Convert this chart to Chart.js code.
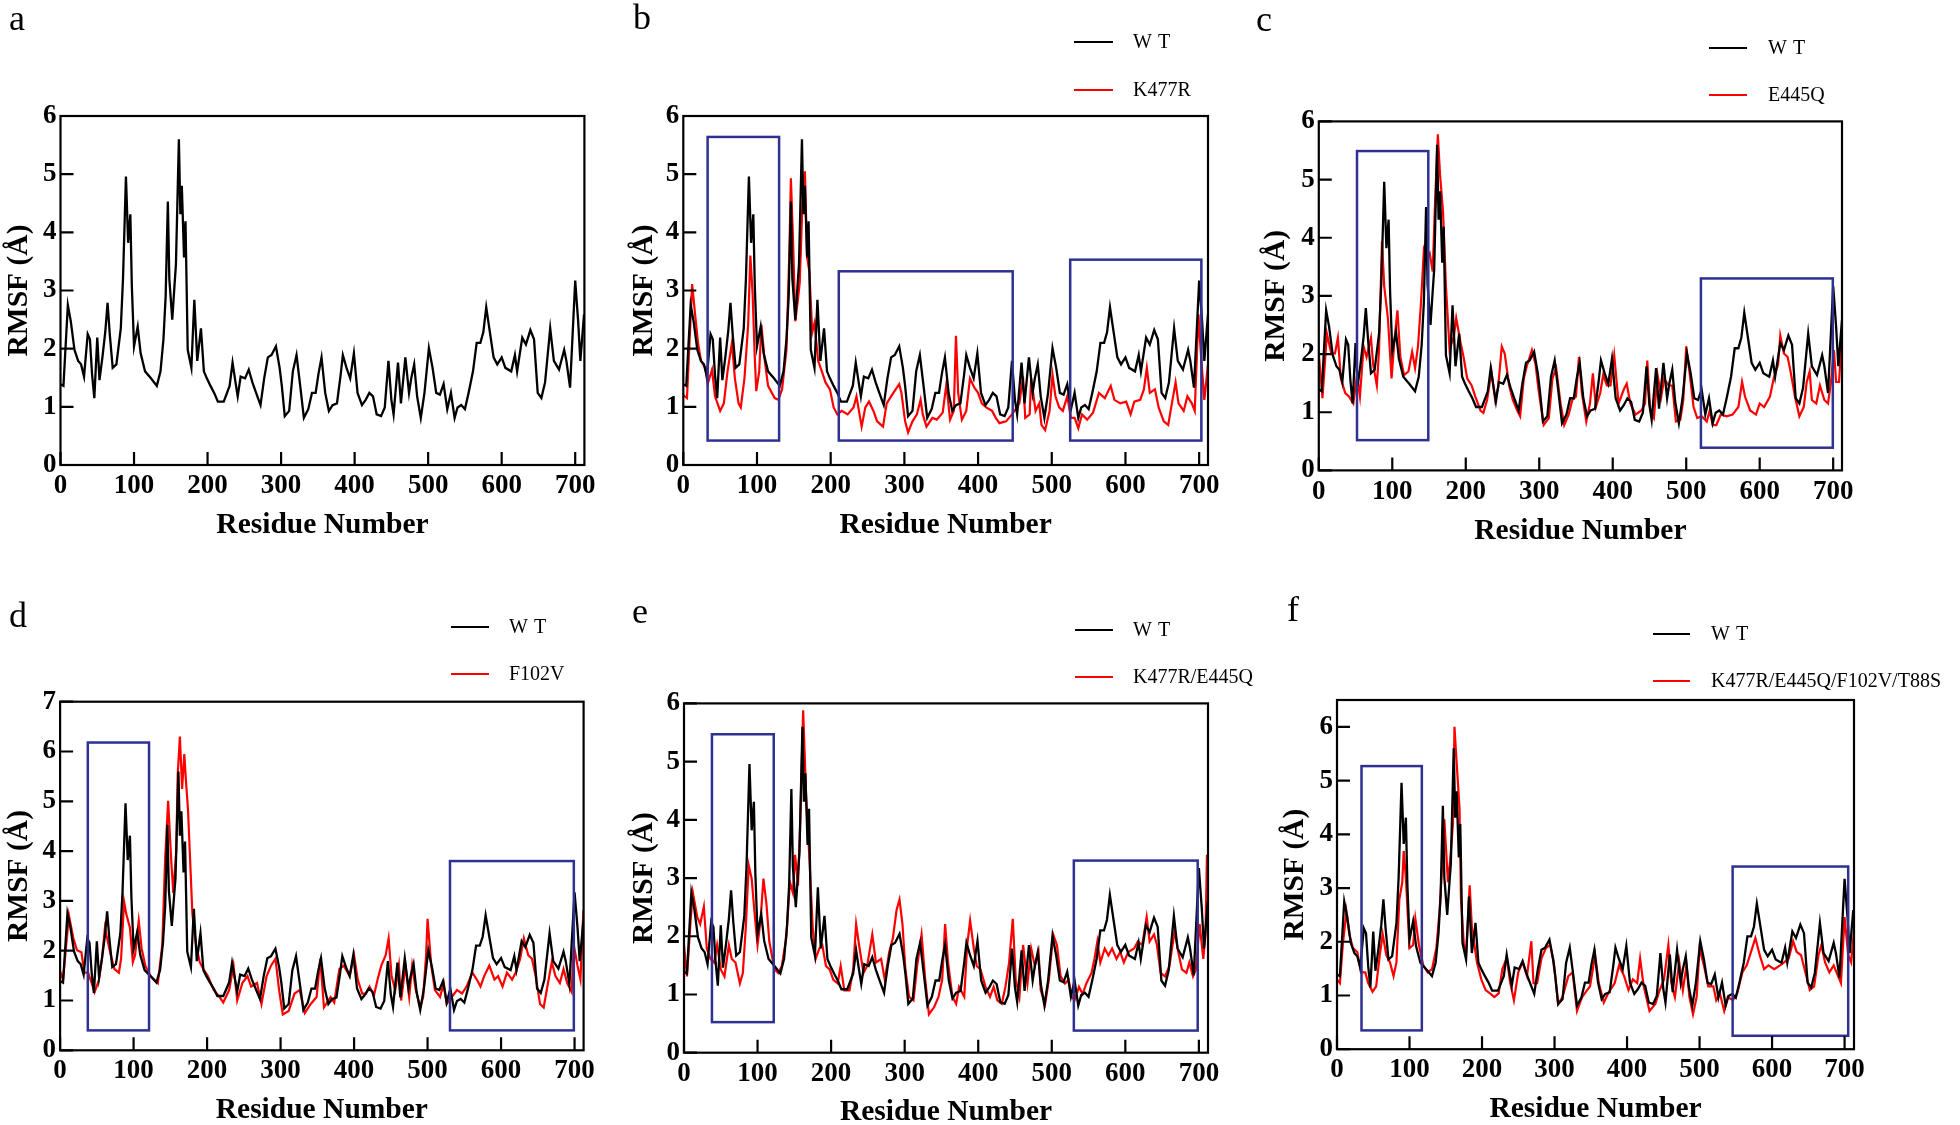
<!DOCTYPE html>
<html>
<head>
<meta charset="utf-8">
<script src="https://cdn.jsdelivr.net/npm/chart.js@4.4.1/dist/chart.umd.min.js"></script>
<style>
  html, body { margin: 0; padding: 0; background: #fff; }
  body { width: 1960px; height: 1125px; position: relative; overflow: hidden; }
  canvas { position: absolute; }
</style>
</head>
<body>
<canvas id="pa"></canvas>
<canvas id="pb"></canvas>
<canvas id="pc"></canvas>
<canvas id="pd"></canvas>
<canvas id="pe"></canvas>
<canvas id="pf"></canvas>
<script>
// RMSF per residue, [residue, RMSF in Å]
const wt = [[0,1.39],[4,1.36],[10,2.75],[14,2.47],[19,1.98],[24,1.79],[28,1.73],[32,1.52],[37,2.25],[40,2.16],[43,1.55],[46,1.15],[50,2.19],[53,1.46],[57,1.85],[61,2.3],[64,2.79],[67,2.25],[71,1.67],[76,1.73],[82,2.35],[85,3.2],[89,4.96],[92,3.82],[95,4.31],[97,3.08],[100,2.04],[105,2.38],[109,1.92],[115,1.61],[123,1.49],[131,1.36],[136,1.61],[140,2.16],[143,2.9],[146,4.53],[148,3.2],[152,2.5],[155,3.08],[157,3.45],[161,5.6],[163,4.31],[165,4.8],[168,3.57],[170,4.19],[173,1.98],[178,1.67],[182,2.84],[186,1.79],[191,2.35],[195,1.61],[199,1.49],[204,1.36],[209,1.24],[214,1.09],[222,1.09],[230,1.36],[234,1.76],[238,1.42],[241,1.18],[245,1.52],[251,1.49],[256,1.64],[261,1.42],[266,1.24],[272,1.03],[277,1.49],[282,1.85],[287,1.89],[293,2.04],[298,1.67],[301,1.36],[305,0.84],[311,0.93],[316,1.61],[321,1.89],[326,1.36],[331,0.81],[337,0.96],[342,1.24],[347,1.24],[351,1.58],[355,1.85],[360,1.24],[365,0.93],[370,1.03],[376,1.06],[381,1.55],[384,1.89],[389,1.67],[394,1.49],[399,1.92],[404,1.24],[410,1.03],[415,1.12],[420,1.24],[425,1.18],[430,0.87],[436,0.84],[441,0.99],[446,1.79],[450,1.12],[453,0.87],[459,1.76],[463,1.06],[469,1.85],[474,1.24],[477,1.49],[481,1.73],[485,1.18],[490,0.81],[495,1.24],[501,2.01],[506,1.67],[511,1.24],[516,1.21],[521,1.39],[526,0.96],[531,1.24],[536,0.81],[540,0.99],[545,1.03],[550,0.96],[555,1.24],[561,1.61],[566,2.1],[571,2.1],[575,2.28],[579,2.71],[584,2.28],[589,1.85],[594,1.73],[600,1.85],[605,1.67],[613,1.61],[618,1.89],[621,1.61],[628,2.19],[633,2.07],[639,2.32],[644,2.16],[649,1.24],[654,1.15],[659,1.42],[666,2.35],[671,1.79],[678,1.64],[685,1.98],[688,1.79],[693,1.33],[700,3.17],[704,2.47],[707,1.79],[712,2.59]];

const k477r = [[0,1.2],[2,1.18],[5,1.15],[12,3.11],[16,2.59],[20,2.1],[24,1.79],[30,1.67],[33,1.39],[39,1.64],[43,1.18],[50,0.93],[55,1.06],[60,1.61],[66,2.1],[70,1.49],[75,1.06],[78,0.99],[83,1.49],[88,2.41],[91,3.6],[94,2.96],[97,1.85],[99,1.27],[103,1.61],[106,2.41],[110,1.85],[115,1.36],[124,1.15],[129,1.12],[134,1.3],[140,1.98],[144,3.7],[146,4.93],[149,3.82],[152,2.47],[156,2.9],[158,3.14],[162,4.62],[165,5.05],[168,3.57],[171,3.33],[175,2.28],[178,2.44],[183,1.79],[188,1.61],[193,1.42],[199,1.3],[204,0.99],[209,0.87],[215,0.93],[223,0.87],[231,0.99],[235,1.18],[242,0.66],[247,0.99],[252,1.09],[258,0.93],[263,0.75],[271,0.66],[276,1.06],[285,1.24],[293,1.39],[296,1.24],[301,0.75],[305,0.56],[311,0.75],[317,0.87],[322,1.12],[325,0.87],[330,0.66],[338,0.81],[344,0.78],[352,0.9],[357,1.39],[362,0.78],[367,0.93],[370,2.22],[373,1.24],[378,0.78],[384,0.93],[389,1.49],[395,1.33],[400,1.24],[405,1.06],[411,0.99],[419,0.93],[424,0.81],[429,0.72],[438,0.75],[446,0.87],[451,0.96],[456,1.06],[461,1.52],[464,0.81],[470,0.87],[472,1.49],[478,0.93],[483,1.06],[486,0.69],[491,0.6],[497,0.93],[501,1.55],[505,1.18],[510,0.99],[515,0.93],[521,1.18],[526,0.81],[531,0.81],[536,0.63],[541,0.87],[548,0.78],[556,0.9],[564,1.24],[572,1.15],[580,1.36],[585,1.12],[593,1.06],[601,1.09],[607,0.87],[612,1.09],[620,1.12],[625,1.3],[629,1.67],[633,1.24],[640,1.3],[645,0.99],[652,0.75],[658,0.69],[663,1.06],[668,1.42],[672,1.06],[679,0.93],[684,1.18],[690,1.06],[694,0.93],[699,2.59],[703,1.79],[707,1.12],[712,1.73]];

const e445q = [[0,2.01],[5,1.24],[11,2.35],[17,2.01],[22,2.01],[26,2.28],[30,1.58],[36,1.33],[41,1.27],[47,1.15],[52,1.64],[56,1.27],[61,2.13],[65,1.95],[71,2.28],[74,1.82],[79,1.46],[82,2.07],[86,3.94],[89,3.17],[94,2.62],[99,1.58],[103,2.25],[107,2.75],[111,1.95],[116,1.64],[122,1.7],[127,2.04],[131,1.76],[135,2.13],[139,2.87],[143,3.79],[147,3.64],[151,3.73],[155,3.42],[158,4.53],[162,5.78],[165,5.08],[169,4.46],[173,3.17],[178,2.07],[184,2.32],[187,2.62],[193,2.19],[197,1.95],[202,1.58],[208,1.46],[213,1.27],[220,1.03],[224,0.99],[229,1.21],[235,1.7],[240,1.21],[244,1.42],[249,2.13],[253,2.01],[259,1.46],[264,1.21],[270,1.03],[274,0.93],[279,1.58],[283,1.79],[290,2.07],[295,1.82],[299,1.39],[306,0.78],[313,0.9],[318,1.58],[323,1.76],[329,1.15],[334,0.78],[340,0.96],[345,1.21],[350,1.27],[354,1.95],[358,1.33],[364,0.84],[369,1.15],[373,1.67],[377,1.09],[383,1.33],[387,1.64],[392,1.46],[397,1.46],[402,1.98],[408,1.15],[415,1.39],[419,1.49],[424,1.15],[431,0.96],[439,1.03],[444,1.15],[447,1.89],[451,1.03],[456,0.9],[461,1.64],[466,1.27],[470,1.58],[476,1.46],[481,1.46],[486,0.84],[492,0.87],[496,1.21],[500,2.13],[505,1.64],[510,1.09],[515,0.9],[521,0.93],[528,0.84],[532,1.03],[536,0.78],[541,0.78],[547,0.96],[555,0.93],[563,0.96],[571,1.09],[576,1.52],[580,1.27],[587,1.03],[595,0.96],[600,1.15],[606,1.09],[614,1.27],[619,1.58],[625,1.82],[628,2.32],[633,2.01],[638,1.95],[642,1.7],[648,1.27],[654,0.93],[660,1.09],[664,1.52],[668,1.7],[671,1.21],[677,1.15],[682,1.46],[688,1.21],[693,1.15],[697,1.52],[701,2.07],[704,1.52],[708,1.52],[712,2.38]];

const f102v = [[0,1.59],[4,1.42],[12,2.71],[18,2.25],[23,2.01],[29,1.97],[33,1.56],[38,1.56],[43,1.35],[47,1.17],[53,1.42],[57,1.84],[61,2.46],[65,2.18],[69,1.91],[74,1.63],[80,1.56],[83,1.84],[87,2.99],[90,2.74],[95,2.46],[99,1.77],[102,1.91],[107,2.6],[111,2.04],[116,1.7],[123,1.49],[128,1.42],[133,1.35],[139,2.11],[143,3.86],[147,5.01],[151,3.86],[154,3.16],[158,4.0],[160,5.53],[163,6.3],[166,5.25],[169,5.95],[171,5.46],[174,4.84],[177,3.79],[180,2.74],[185,2.11],[190,1.77],[195,1.63],[201,1.49],[209,1.21],[217,1.07],[222,0.96],[230,1.21],[236,1.7],[241,1.0],[248,1.35],[255,1.49],[260,1.28],[268,1.35],[274,0.93],[281,1.49],[287,1.7],[293,1.84],[298,1.21],[303,0.72],[311,0.79],[319,1.14],[326,1.21],[333,0.75],[341,0.93],[349,1.07],[354,1.84],[359,0.86],[368,1.07],[373,0.96],[380,1.63],[386,1.7],[394,1.49],[400,1.91],[405,1.42],[411,1.14],[416,1.14],[421,1.28],[427,1.1],[432,1.42],[437,1.7],[443,1.91],[447,2.25],[451,1.49],[456,1.21],[461,1.7],[464,1.0],[470,1.7],[475,1.07],[479,1.7],[484,1.21],[490,0.86],[494,1.07],[498,1.91],[500,2.64],[505,1.7],[510,1.21],[517,1.07],[522,1.35],[526,0.93],[533,1.07],[540,1.21],[547,1.14],[553,1.28],[561,1.56],[567,1.42],[572,1.28],[577,1.49],[584,1.7],[591,1.42],[596,1.49],[602,1.28],[608,1.56],[615,1.42],[620,1.56],[626,1.84],[631,2.25],[637,1.91],[642,1.84],[647,1.49],[653,0.93],[658,0.86],[663,1.28],[669,1.77],[674,1.49],[680,1.35],[685,1.63],[690,1.35],[696,1.17],[699,2.11],[704,1.7],[708,1.42],[712,2.81]];

const k477rE445q = [[0,1.85],[4,1.31],[9,2.27],[12,2.75],[18,2.33],[22,2.21],[27,2.51],[31,1.79],[36,1.61],[41,1.55],[45,1.85],[50,1.43],[55,1.31],[61,1.85],[65,1.61],[70,1.55],[76,1.19],[80,1.37],[84,2.15],[88,3.22],[92,2.99],[96,2.39],[100,1.85],[104,2.27],[108,2.99],[112,2.57],[116,1.91],[123,1.43],[128,1.37],[133,1.49],[139,1.97],[144,2.93],[148,2.75],[151,3.4],[155,2.87],[158,3.94],[162,5.88],[166,4.42],[170,3.46],[175,2.15],[179,1.61],[184,1.79],[188,1.85],[193,1.49],[198,1.43],[203,1.25],[209,1.19],[213,1.49],[218,1.07],[225,1.07],[230,1.43],[234,2.21],[238,1.85],[244,1.37],[249,1.49],[256,2.03],[261,1.55],[268,1.61],[273,1.25],[279,1.73],[284,1.97],[289,2.45],[293,2.63],[297,2.21],[301,1.43],[306,0.96],[312,0.9],[317,1.49],[323,2.03],[328,1.25],[333,0.66],[340,0.78],[346,0.96],[351,1.25],[355,2.21],[359,1.55],[365,0.96],[370,0.84],[374,1.13],[381,0.96],[385,1.85],[389,2.27],[394,1.79],[398,1.49],[403,1.43],[410,1.13],[416,0.96],[421,1.13],[426,0.9],[432,0.84],[437,1.13],[442,1.55],[447,2.3],[451,1.25],[456,0.96],[461,1.85],[467,1.19],[472,1.79],[477,1.49],[482,1.73],[485,1.07],[491,0.84],[496,1.25],[502,2.03],[507,1.85],[512,1.31],[518,1.19],[523,1.25],[527,0.96],[531,0.9],[537,1.13],[542,1.01],[547,1.19],[554,1.37],[558,1.61],[562,1.91],[566,1.55],[572,1.79],[577,1.67],[582,1.79],[588,1.61],[593,1.73],[598,1.55],[604,1.73],[612,1.79],[617,1.91],[623,1.85],[629,2.33],[633,1.91],[639,2.03],[643,1.85],[648,1.37],[654,1.31],[660,1.49],[667,2.09],[672,1.73],[677,1.43],[683,1.37],[687,1.55],[692,1.31],[696,1.43],[701,2.21],[706,1.61],[709,2.03],[711,3.4]];

const quadMutant = [[0,1.3],[4,1.23],[8,1.94],[13,2.56],[17,2.14],[22,1.88],[28,1.81],[33,1.43],[39,1.43],[43,1.23],[49,1.07],[54,1.17],[59,1.75],[63,2.14],[68,1.75],[73,1.62],[78,1.36],[82,1.62],[86,2.79],[90,3.11],[92,3.69],[95,3.18],[100,1.88],[105,1.94],[108,2.43],[113,1.94],[119,1.56],[125,1.43],[131,1.49],[137,1.88],[142,2.66],[145,3.43],[148,4.28],[153,3.11],[156,3.5],[160,4.21],[162,6.0],[166,5.12],[169,4.47],[171,2.79],[175,1.94],[178,1.75],[183,3.05],[186,2.27],[193,1.62],[199,1.3],[205,1.1],[211,1.04],[217,0.97],[223,1.04],[228,1.49],[234,1.69],[239,1.23],[244,0.91],[250,1.43],[256,1.62],[262,1.36],[268,2.01],[271,1.23],[276,1.23],[282,1.69],[288,1.88],[294,1.94],[299,1.62],[305,0.84],[311,0.97],[319,1.36],[325,1.43],[331,0.71],[338,0.97],[345,1.1],[349,1.17],[356,1.75],[361,1.23],[368,0.87],[374,1.04],[383,1.23],[389,1.56],[396,1.36],[402,1.1],[408,1.3],[414,1.23],[418,1.69],[423,1.17],[431,0.71],[439,0.84],[445,1.1],[451,1.3],[457,1.94],[461,1.23],[466,0.97],[472,1.62],[477,1.1],[482,1.56],[486,0.97],[491,0.65],[496,0.97],[500,1.88],[506,1.56],[512,1.17],[519,1.17],[523,0.91],[528,1.04],[534,0.71],[539,0.97],[546,0.91],[552,1.04],[559,1.43],[565,1.56],[571,1.81],[577,2.07],[583,1.75],[589,1.49],[595,1.56],[603,1.49],[611,1.56],[617,1.62],[623,1.69],[629,2.01],[634,1.81],[640,1.75],[646,1.43],[652,1.1],[658,1.17],[664,1.75],[668,1.94],[673,1.62],[679,1.43],[685,1.56],[691,1.36],[695,1.23],[700,2.46],[705,1.75],[709,1.62],[713,2.2]];

// highlight boxes per panel: [residueFrom, residueTo, rmsfLow, rmsfHigh]
const boxesB = [[33,130,0.42,5.64],[211,447,0.42,3.33],[525,703,0.42,3.53]];
const boxesC = [[52,149,0.52,5.49],[520,699.5,0.39,3.3]];
const boxesD = [[37.7,121,0.4,6.18],[530.5,699,0.4,3.8]];
const boxesE = [[38,122,0.525,5.47],[530,698.4,0.38,3.3]];
const boxesF = [[33.8,117,0.35,5.27],[545.6,705,0.25,3.4]];

const xTickStep = 100;
const FONT = '"Liberation Serif", "Times New Roman", serif';
Chart.defaults.font.family = FONT;
Chart.defaults.color = '#000';

// layout, page pixels: canvas [x, y, w, h], plot [left, top, right, bottom]
const panels = [
  {id: 'pa', letter: 'a', canvas: [0, 0, 620, 560], plot: [60.5, 116, 584.4, 465], xMax: 712.5, yMax: 6,
   mutant: null, boxes: [], letterAt: [17, 21], yTitleX: 19, xTitleY: 525},
  {id: 'pb', letter: 'b', canvas: [620, 0, 660, 560], plot: [683.3, 116, 1208, 465], xMax: 712, yMax: 6,
   mutant: k477r, mutantName: 'K477R', boxes: boxesB, letterAt: [642, 20], yTitleX: 644, xTitleY: 525,
   legend: {x0: 1074, x1: 1113, y: [42, 90], tx: 1133}},
  {id: 'pc', letter: 'c', canvas: [1250, 0, 710, 560], plot: [1318.8, 121.4, 1842, 470.4], xMax: 712, yMax: 6,
   mutant: e445q, mutantName: 'E445Q', boxes: boxesC, letterAt: [1264, 22], yTitleX: 1276, xTitleY: 531,
   legend: {x0: 1709, x1: 1747, y: [48, 95], tx: 1768}},
  {id: 'pd', letter: 'd', canvas: [0, 560, 620, 565], plot: [60.1, 701.7, 583.6, 1050.3], xMax: 712.3, yMax: 7,
   mutant: f102v, mutantName: 'F102V', boxes: boxesD, letterAt: [18, 618], yTitleX: 19, xTitleY: 1110,
   legend: {x0: 451, x1: 489, y: [627, 674], tx: 509}},
  {id: 'pe', letter: 'e', canvas: [620, 560, 660, 565], plot: [684, 703.4, 1208, 1052.7], xMax: 712.4, yMax: 6,
   mutant: k477rE445q, mutantName: 'K477R/E445Q', boxes: boxesE, letterAt: [640, 614], yTitleX: 644, xTitleY: 1112,
   legend: {x0: 1075, x1: 1113, y: [630, 677], tx: 1133}},
  {id: 'pf', letter: 'f', canvas: [1250, 560, 710, 565], plot: [1337, 700, 1854, 1049.2], xMax: 713, yMax: 6.5,
   mutant: quadMutant, mutantName: 'K477R/E445Q/F102V/T88S', boxes: boxesF, letterAt: [1293, 612], yTitleX: 1295, xTitleY: 1109,
   legend: {x0: 1653, x1: 1690, y: [634, 681], tx: 1711}}
];

const toXY = arr => arr.map(([x, y]) => ({x, y}));

function framePlugin(p) {
  const [cx, cy] = p.canvas;
  return {
    id: 'frame' + p.letter,
    afterDatasetsDraw(chart) {
      const {ctx, chartArea: a, scales: {x, y}} = chart;
      ctx.save();
      // blue highlight boxes
      ctx.strokeStyle = '#2e3192';
      ctx.lineWidth = 2.5;
      p.boxes.forEach(([x0, x1, y0, y1]) => {
        const l = x.getPixelForValue(x0), r = x.getPixelForValue(x1);
        const t = y.getPixelForValue(y1), b = y.getPixelForValue(y0);
        ctx.strokeRect(l, t, r - l, b - t);
      });
      // frame
      ctx.strokeStyle = '#000';
      ctx.lineWidth = 2.2;
      ctx.strokeRect(a.left, a.top, a.right - a.left, a.bottom - a.top);
      // inward ticks
      ctx.beginPath();
      x.ticks.forEach(t => {
        const px = x.getPixelForValue(t.value);
        ctx.moveTo(px, a.bottom);
        ctx.lineTo(px, a.bottom - 13);
      });
      y.ticks.forEach(t => {
        const py = y.getPixelForValue(t.value);
        ctx.moveTo(a.left, py);
        ctx.lineTo(a.left + 13, py);
      });
      ctx.stroke();
      ctx.restore();
    },
    afterDraw(chart) {
      const ctx = chart.ctx;
      ctx.save();
      ctx.fillStyle = '#000';
      ctx.textBaseline = 'middle';
      ctx.textAlign = 'center';
      ctx.font = '36px ' + FONT;
      ctx.fillText(p.letter, p.letterAt[0] - cx, p.letterAt[1] - cy);
      if (p.legend) {
        const lg = p.legend;
        const items = [['WT', '#000'], [p.mutantName, '#ff0000']];
        ctx.font = '20px ' + FONT;
        ctx.textAlign = 'left';
        ctx.lineWidth = 2;
        items.forEach(([label, color], i) => {
          const yy = lg.y[i] - cy;
          ctx.strokeStyle = color;
          ctx.beginPath();
          ctx.moveTo(lg.x0 - cx, yy);
          ctx.lineTo(lg.x1 - cx, yy);
          ctx.stroke();
          ctx.fillStyle = '#000';
          ctx.letterSpacing = i === 0 ? '6px' : '0px';
          ctx.fillText(label, lg.tx - cx, yy + 1);
        });
      }
      ctx.restore();
    }
  };
}

function makeChart(p) {
  const [cx, cy, cw, ch] = p.canvas;
  const [L, T, R, B] = p.plot;
  const el = document.getElementById(p.id);
  el.width = cw; el.height = ch;
  Object.assign(el.style, {left: cx + 'px', top: cy + 'px', width: cw + 'px', height: ch + 'px'});

  const datasets = [{label: 'WT', data: toXY(wt), borderColor: '#000', borderWidth: 2.3,
                     pointRadius: 0, tension: 0}];
  if (p.mutant) {
    datasets.push({label: p.mutantName, data: toXY(p.mutant), borderColor: '#ff0000',
                   borderWidth: 2.2, pointRadius: 0, tension: 0});
  }
  const titleSize = 29.5;
  const half = titleSize * 1.2 / 2;

  new Chart(el, {
    type: 'line',
    data: {datasets},
    options: {
      responsive: false,
      animation: false,
      devicePixelRatio: 1,
      events: [],
      layout: {padding: {left: 0, top: T - cy, right: cx + cw - R, bottom: 0}},
      plugins: {legend: {display: false}, tooltip: {enabled: false}},
      scales: {
        x: {
          type: 'linear', min: 0, max: p.xMax,
          grid: {display: false, drawTicks: false},
          border: {display: false},
          ticks: {stepSize: xTickStep, includeBounds: false, autoSkip: false, maxRotation: 0,
                  padding: 5, color: '#000', font: {size: 27, weight: 'bold'}},
          title: {display: true, text: 'Residue Number', color: '#000',
                  font: {size: titleSize, weight: 'bold'},
                  padding: {top: 0, bottom: cy + ch - p.xTitleY - half}},
          afterFit: s => { s.height = cy + ch - B; }
        },
        y: {
          min: 0, max: p.yMax,
          grid: {display: false, drawTicks: false},
          border: {display: false},
          ticks: {stepSize: 1, includeBounds: false, padding: 4, color: '#000',
                  font: {size: 27, weight: 'bold'}},
          title: {display: true, text: 'RMSF (Å)', color: '#000',
                  font: {size: titleSize, weight: 'bold'},
                  padding: {top: p.yTitleX - cx - half, bottom: 0}},
          afterFit: s => { s.width = L - cx; }
        }
      }
    },
    plugins: [framePlugin(p)]
  });
}

panels.forEach(makeChart);
</script>
</body>
</html>
